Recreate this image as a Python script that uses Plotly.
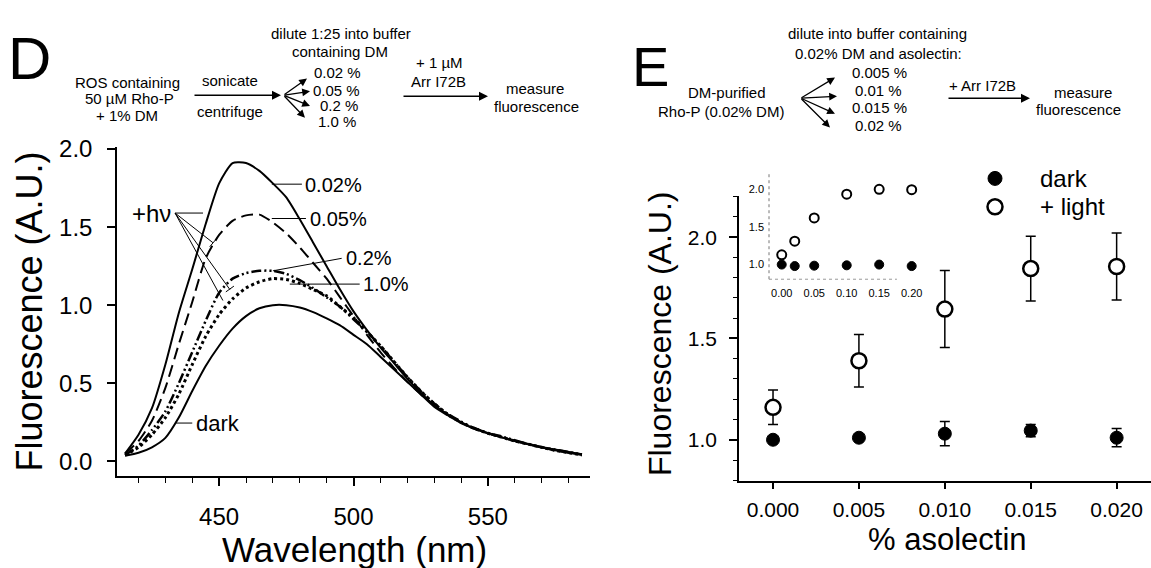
import plotly.graph_objects as go

W, H = 1151, 568
FONT = "Liberation Sans, Arial, sans-serif"

# ---------------- Panel D data (fluorescence spectra) ----------------
wavelength = [415, 420, 425, 430, 435, 440, 445, 450, 455, 460, 465, 470, 475, 480,
              485, 490, 495, 500, 505, 510, 515, 520, 525, 530, 535, 540, 545, 550,
              555, 560, 565, 570, 575, 580, 585]
dm_002 = [0.05, 0.17, 0.34, 0.62, 0.95, 1.23, 1.52, 1.78, 1.91, 1.91, 1.86, 1.78, 1.69, 1.55,
          1.40, 1.25, 1.10, 0.96, 0.84, 0.73, 0.63, 0.53, 0.44, 0.36, 0.30, 0.25, 0.21, 0.18,
          0.155, 0.13, 0.11, 0.09, 0.075, 0.06, 0.045]
dm_005 = [0.05, 0.13, 0.26, 0.47, 0.75, 1.02, 1.30, 1.45, 1.54, 1.575, 1.58, 1.53, 1.46, 1.37,
          1.27, 1.17, 1.05, 0.93, 0.81, 0.70, 0.60, 0.51, 0.43, 0.36, 0.30, 0.25, 0.215, 0.18,
          0.155, 0.13, 0.11, 0.09, 0.07, 0.055, 0.045]
dm_02 = [0.04, 0.10, 0.20, 0.32, 0.50, 0.70, 0.90, 1.08, 1.17, 1.205, 1.22, 1.22, 1.20, 1.16,
         1.11, 1.05, 0.99, 0.91, 0.83, 0.74, 0.64, 0.54, 0.45, 0.37, 0.305, 0.255, 0.21, 0.18,
         0.16, 0.135, 0.11, 0.09, 0.075, 0.06, 0.045]
dm_10 = [0.04, 0.09, 0.17, 0.28, 0.43, 0.62, 0.80, 0.94, 1.04, 1.11, 1.15, 1.17, 1.165, 1.14,
         1.10, 1.06, 0.99, 0.92, 0.83, 0.74, 0.64, 0.54, 0.45, 0.37, 0.30, 0.25, 0.21, 0.18,
         0.155, 0.13, 0.11, 0.09, 0.07, 0.055, 0.04]
dm_dark = [0.035, 0.055, 0.09, 0.15, 0.28, 0.45, 0.61, 0.74, 0.85, 0.93, 0.98, 1.00, 1.00, 0.985,
           0.955, 0.915, 0.87, 0.81, 0.75, 0.67, 0.59, 0.51, 0.43, 0.35, 0.295, 0.245, 0.21, 0.18,
           0.155, 0.13, 0.11, 0.09, 0.07, 0.055, 0.04]

# ---------------- Panel E data ----------------
asolectin = [0.000, 0.005, 0.010, 0.015, 0.020]
dark_E = [1.00, 1.01, 1.03, 1.045, 1.01]
dark_E_err = [0.0, 0.0, 0.06, 0.03, 0.045]
light_E = [1.16, 1.39, 1.645, 1.845, 1.855]
light_E_err = [0.085, 0.13, 0.19, 0.16, 0.165]

# inset
inset_x = [0.00, 0.02, 0.05, 0.10, 0.15, 0.20]
inset_dark = [1.00, 0.98, 0.985, 0.99, 1.00, 0.98]
inset_light = [1.13, 1.31, 1.62, 1.935, 2.00, 1.995]

D_xticks = [450, 500, 550]
D_yticks = [0.0, 0.5, 1.0, 1.5, 2.0]
E_xticks = [0.000, 0.005, 0.010, 0.015, 0.020]
E_yticks = [1.0, 1.5, 2.0]
I_xticks = [0.00, 0.05, 0.10, 0.15, 0.20]
I_yticks = [1.0, 1.5, 2.0]


def X(px):
    return px / W


def Y(py):
    return 1 - py / H


fig = go.Figure()

# Panel D curves
line_specs = [
    (dm_002, dict(color="black", width=2, dash="solid")),
    (dm_005, dict(color="black", width=2, dash="12px,6px")),
    (dm_02, dict(color="black", width=2.5, dash="10px,3px,2px,3px,2px,3px")),
    (dm_10, dict(color="black", width=3, dash="dot")),
    (dm_dark, dict(color="black", width=2, dash="solid")),
]
for ys, ln in line_specs:
    fig.add_trace(go.Scatter(x=wavelength, y=ys, mode="lines", line=dict(shape="spline", smoothing=0.6, **ln),
                             xaxis="x", yaxis="y", showlegend=False, hoverinfo="skip"))

# Panel E
fig.add_trace(go.Scatter(x=asolectin, y=dark_E, mode="markers",
                         error_y=dict(type="data", array=dark_E_err, color="black", thickness=1.5, width=5),
                         marker=dict(symbol="circle", size=13, color="black", line=dict(color="black", width=1)),
                         xaxis="x2", yaxis="y2", showlegend=False))
fig.add_trace(go.Scatter(x=asolectin, y=light_E, mode="markers",
                         error_y=dict(type="data", array=light_E_err, color="black", thickness=1.5, width=5),
                         marker=dict(symbol="circle", size=15, color="white", line=dict(color="black", width=2.5)),
                         xaxis="x2", yaxis="y2", showlegend=False))
# inset
fig.add_trace(go.Scatter(x=inset_x, y=inset_dark, mode="markers",
                         marker=dict(symbol="circle", size=9, color="black", line=dict(color="black", width=1)),
                         xaxis="x3", yaxis="y3", showlegend=False))
fig.add_trace(go.Scatter(x=inset_x, y=inset_light, mode="markers",
                         marker=dict(symbol="circle", size=9, color="white", line=dict(color="black", width=2)),
                         xaxis="x3", yaxis="y3", showlegend=False))

axis_common = dict(showline=True, linecolor="black", linewidth=1.5, showgrid=False, zeroline=False,
                   ticks="outside", tickcolor="black", tickwidth=1.5,
                   tickfont=dict(family=FONT, color="black"))

fig.update_layout(
    width=W, height=H, margin=dict(l=0, r=0, t=0, b=0),
    paper_bgcolor="white", plot_bgcolor="rgba(0,0,0,0)",
    font=dict(family=FONT, color="black"),
    xaxis=dict(**axis_common, domain=[X(117), X(590)], range=[412, 588], anchor="y",
               tickvals=D_xticks, ticklen=8, ticklabelstandoff=10,
               minor=dict(dtick=10, tick0=400, ticks="outside", ticklen=5, tickwidth=1.2, tickcolor="black"),
               tickfont_size=24),
    yaxis=dict(**axis_common, domain=[Y(474), Y(138)], range=[-0.094, 2.0125], anchor="x",
               tickvals=D_yticks, tickformat=".1f", ticklen=8, ticklabelstandoff=10, tickfont_size=24),
    xaxis2=dict(**axis_common, domain=[X(739), 1.0], range=[-0.00198, 0.022], anchor="y2",
                tickvals=E_xticks, tickformat=".3f", ticklen=6, ticklabelstandoff=3, tickfont_size=21),
    yaxis2=dict(**axis_common, domain=[Y(479), Y(188)], range=[0.797, 2.203], anchor="x2",
                tickvals=E_yticks, tickformat=".1f", ticklen=8, ticklabelstandoff=8, tickfont_size=21,
                minor=dict(dtick=0.1, tick0=0.8, ticks="outside", ticklen=4, tickwidth=1.2, tickcolor="black")),
    xaxis3=dict(showline=False, showgrid=False, zeroline=False, ticks="",
                domain=[X(769), X(925)], range=[-0.0196, 0.2205], anchor="y3",
                tickvals=I_xticks, tickformat=".2f", ticklabelstandoff=6,
                tickfont=dict(family=FONT, size=11, color="black")),
    yaxis3=dict(showline=False, showgrid=False, zeroline=False, ticks="",
                domain=[Y(273), Y(165)], range=[0.805, 2.21], anchor="x3",
                tickvals=I_yticks, tickformat=".1f", ticklabelstandoff=4,
                tickfont=dict(family=FONT, size=11, color="black")),
)

shapes = []
# inset dotted axes
shapes.append(dict(type="line", xref="x3 domain", yref="y3 domain", x0=0, x1=0, y0=0, y1=1,
                   line=dict(color="#777", width=1, dash="dot")))
shapes.append(dict(type="line", xref="x3 domain", yref="y3 domain", x0=0, x1=0.82, y0=0, y1=0,
                   line=dict(color="#999", width=1, dash="dot")))

# leader lines in panel D (data coords)
leaders = [
    (469.6, 1.775, 480.8, 1.775),   # 0.02%
    (469.6, 1.555, 482.3, 1.555),   # 0.05%
    (470.0, 1.22, 495.6, 1.30),     # 0.2%
    (476.3, 1.135, 502.3, 1.135),   # 1.0%
    (433.6, 1.59, 444.0, 1.59),     # +hv lines
    (433.6, 1.59, 447.7, 1.40),
    (433.6, 1.59, 454.0, 1.10),
    (433.6, 1.59, 451.4, 1.03),
    (446.5, 1.374, 448.9, 1.423),   # small end bars
    (452.5, 1.085, 455.5, 1.122),
    (434.0, 0.245, 440.0, 0.245),   # dark
]
for x0, y0, x1, y1 in leaders:
    shapes.append(dict(type="line", xref="x", yref="y", x0=x0, y0=y0, x1=x1, y1=y1,
                       line=dict(color="black", width=1)))

# legend markers (panel E)
shapes.append(dict(type="circle", xref="paper", yref="paper", xsizemode="pixel", ysizemode="pixel",
                   xanchor=X(995), yanchor=Y(170), x0=-7, x1=7, y0=-7, y1=7,
                   fillcolor="black", line=dict(color="black", width=1)))
shapes.append(dict(type="circle", xref="paper", yref="paper", xsizemode="pixel", ysizemode="pixel",
                   xanchor=X(995), yanchor=Y(199), x0=-7.5, x1=7.5, y0=-7.5, y1=7.5,
                   fillcolor="white", line=dict(color="black", width=2.5)))
fig.update_layout(shapes=shapes)

ann = []


def txt(text, px, py, size, xanchor="center", yanchor="middle", angle=0):
    ann.append(dict(text=text, x=X(px), y=Y(py), xref="paper", yref="paper", showarrow=False,
                    xanchor=xanchor, yanchor=yanchor, textangle=angle,
                    font=dict(family=FONT, size=size, color="black")))


def dtxt(text, x, y, size, xanchor="left", axes=("x", "y")):
    ann.append(dict(text=text, x=x, y=y, xref=axes[0], yref=axes[1], showarrow=False,
                    xanchor=xanchor, yanchor="middle", font=dict(family=FONT, size=size, color="black")))


def arrow(x0, y0, x1, y1, width=1.5):
    ann.append(dict(text="", x=X(x1), y=Y(y1), xref="paper", yref="paper", showarrow=True,
                    ax=x0 - x1, ay=y0 - y1, axref="pixel", ayref="pixel",
                    arrowhead=2, arrowsize=1.2, arrowwidth=width, arrowcolor="black"))


# panel letters
txt("D", 29, 47, 60)
txt("E", 650, 56, 56)

# panel D schematic
txt("ROS containing", 128, 72, 15)
txt("50 µM Rho-P", 129, 88, 15)
txt("+ 1% DM", 127, 106, 15)
txt("sonicate", 230, 70, 15)
arrow(193, 85, 281, 85)
txt("centrifuge", 230, 102, 15)
txt("dilute 1:25 into buffer", 341, 22, 15)
txt("containing DM", 340, 40, 15)
for (hx, hy) in [(307, 68), (310, 81), (310, 96), (305, 108)]:
    arrow(283, 85, hx, hy, 1.3)
txt("0.02 %", 312, 62, 15, xanchor="left")
txt("0.05 %", 311, 80, 15, xanchor="left")
txt("0.2 %", 318, 96, 15, xanchor="left")
txt("1.0 %", 316, 112, 15, xanchor="left")
txt("+ 1 µM", 439, 52, 15)
txt("Arr I72B", 438, 71, 15)
arrow(402, 86, 488, 86)
txt("measure", 535, 78, 15)
txt("fluorescence", 536, 97, 15)

# panel E schematic
txt("DM-purified", 727, 82, 15)
txt("Rho-P (0.02% DM)", 721, 102, 15)
txt("dilute into buffer containing", 877, 22, 15)
txt("0.02% DM and asolectin:", 878, 42, 15)
for (hx, hy) in [(835, 67), (837, 86), (835, 104), (830, 118)]:
    arrow(800, 88, hx, hy, 1.3)
txt("0.005 %", 850, 62, 15, xanchor="left")
txt("0.01 %", 853, 80, 15, xanchor="left")
txt("0.015 %", 850, 98, 15, xanchor="left")
txt("0.02 %", 853, 116, 15, xanchor="left")
txt("+ Arr I72B", 982, 75, 15)
arrow(947, 88, 1030, 88)
txt("measure", 1083, 82, 15)
txt("fluorescence", 1078, 100, 15)

# panel D labels
dtxt("0.02%", 481.1, 1.77, 20)
dtxt("0.05%", 483.0, 1.55, 20)
dtxt("0.2%", 496.5, 1.30, 20)
dtxt("1.0%", 502.8, 1.135, 20)
dtxt("+hν", 432.8, 1.59, 24, xanchor="right")
dtxt("dark", 440.5, 0.245, 22)

# axis titles
txt("Fluorescence (A.U.)", 30, 306, 36, angle=-90)
txt("Wavelength (nm)", 354, 549, 35)
txt("Fluorescence (A.U.)", 660, 328, 32, angle=-90)
txt("% asolectin", 947, 539, 31)

# legend texts
txt("dark", 1038, 170, 24, xanchor="left")
txt("+ light", 1038, 199, 24, xanchor="left")

fig.update_layout(annotations=ann)
fig.write_html("out.html")
